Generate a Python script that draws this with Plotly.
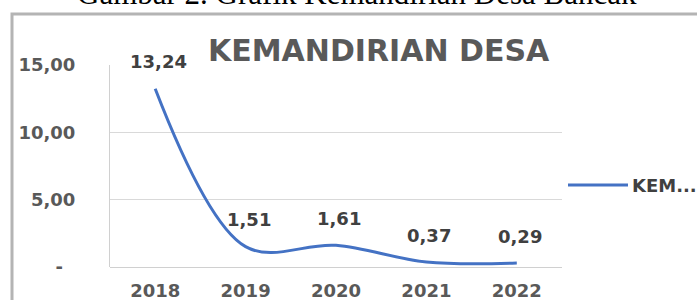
import plotly.graph_objects as go

years = ["2018", "2019", "2020", "2021", "2022"]
values = [13.24, 1.51, 1.61, 0.37, 0.29]
value_labels = ["13,24", "1,51", "1,61", "0,37", "0,29"]
y_tickvals = [0, 5, 10, 15]
y_ticktext = ["-\u00a0\u00a0", "5,00", "10,00", "15,00"]
series_name = "KEM..."
chart_title = "KEMANDIRIAN DESA"
caption = "Gambar 2. Grafik Kemandirian Desa Bancak"

W, H = 697, 300
L, R, T, B = 110, 135, 65, 33
PW, PH = W - L - R, H - T - B

def px(x):
    return (x - L) / PW

def py(y):
    return (H - B - y) / PH

BLUE = "#4472C4"
TICK = "#595959"
LAB = "#404040"
BORDER = "#b4b4b4"
FONT = "DejaVu Sans"

fig = go.Figure()
fig.add_trace(go.Scatter(
    x=years, y=values, mode="lines",
    line=dict(color=BLUE, width=3, shape="spline", smoothing=1.0),
    name=series_name, showlegend=False, hoverinfo="skip",
))

annotations = []
for i, (v, t) in enumerate(zip(values, value_labels)):
    annotations.append(dict(
        x=i, y=v, xref="x", yref="y", text="<b>%s</b>" % t, showarrow=False,
        yshift=27, xshift=3, font=dict(family=FONT, size=18, color=LAB),
    ))

annotations.append(dict(
    x=px(379), y=py(50.5), xref="paper", yref="paper", text="<b>%s</b>" % chart_title,
    showarrow=False, xanchor="center", yanchor="middle",
    font=dict(family=FONT, size=30, color=TICK),
))
annotations.append(dict(
    x=px(357), y=py(13), xref="paper", yref="paper", text=caption,
    showarrow=False, xanchor="center", yanchor="bottom",
    font=dict(family="Liberation Serif", size=31, color="#000000"),
))
annotations.append(dict(
    x=px(630), y=py(185), xref="paper", yref="paper", text="<b>%s</b>" % series_name,
    showarrow=False, xanchor="left", yanchor="middle",
    font=dict(family=FONT, size=18, color=LAB),
))

frame_path = "M %f,%f L %f,%f L %f,%f" % (px(12), py(305), px(12), py(14), px(705), py(14))
shapes = [
    dict(type="path", xref="paper", yref="paper", path=frame_path,
         line=dict(color=BORDER, width=3), layer="above"),
    dict(type="line", xref="paper", yref="paper", x0=px(568), x1=px(628), y0=py(185), y1=py(185),
         line=dict(color=BLUE, width=3)),
]

fig.update_layout(
    width=W, height=H,
    margin=dict(l=L, r=R, t=T, b=B, autoexpand=False),
    paper_bgcolor="white", plot_bgcolor="white",
    annotations=annotations, shapes=shapes, showlegend=False,
    xaxis=dict(
        type="category", range=[-0.5, 4.5], showgrid=False, zeroline=False,
        showline=False, ticks="", ticklabelstandoff=11, automargin=False,
        tickfont=dict(family=FONT, size=18, color=TICK),
        tickprefix="<b>", ticksuffix="</b>",
    ),
    yaxis=dict(
        range=[0, 15], tickvals=y_tickvals, ticktext=["<b>%s</b>" % t for t in y_ticktext],
        showgrid=True, gridcolor="#d9d9d9", gridwidth=1, zeroline=True,
        zerolinecolor="#d0d0d0", zerolinewidth=1, automargin=False,
        showline=True, linecolor="#d0d0d0", linewidth=1, mirror=False,
        ticks="", ticklabelstandoff=30,
        tickfont=dict(family=FONT, size=18, color=TICK),
    ),
)

fig.write_html("out.html", config={"displayModeBar": False},
               post_script="document.body.style.margin='0';document.body.style.overflow='hidden';")
